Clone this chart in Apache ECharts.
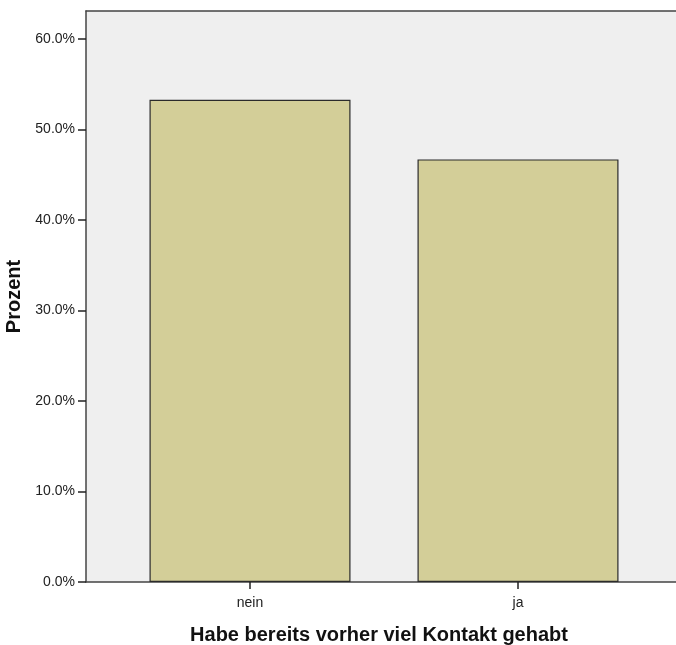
<!DOCTYPE html>
<html>
<head>
<meta charset="utf-8">
<script src="https://cdn.jsdelivr.net/npm/echarts@6/dist/echarts.min.js"></script>
<style>html,body{margin:0;padding:0;background:#fff;}#c{width:676px;height:645px;}</style>
</head>
<body>
<div id="c"></div>
<script>
var categories = ['nein', 'ja'];
var values = [53.3, 46.7];
var yTicks = [0, 10, 20, 30, 40, 50, 60];
var yMax = 63.1;
var xTitle = 'Habe bereits vorher viel Kontakt gehabt';
var yTitle = 'Prozent';

var chart = echarts.init(document.getElementById('c'), null, {renderer: 'canvas'});
var font = 'Liberation Sans, Arial, sans-serif';
chart.setOption({
  animation: false,
  grid: [
    {left: 86, right: 0, top: 11, bottom: 63, show: true, backgroundColor: '#efefef', borderWidth: 0, containLabel: false, outerBoundsMode: 'none'},
    {left: 116, width: 536, top: 11, bottom: 63, show: false, containLabel: false, outerBoundsMode: 'none'}
  ],
  xAxis: [
    {gridIndex: 0, type: 'value', min: 0, max: 1, position: 'top',
     axisLine: {show: true, onZero: false, lineStyle: {color: '#444', width: 1.5}},
     axisTick: {show: false}, axisLabel: {show: false}, splitLine: {show: false}},
    {gridIndex: 0, type: 'value', min: 0, max: 1, position: 'bottom',
     axisLine: {show: true, onZero: false, lineStyle: {color: '#444', width: 1.5}},
     axisTick: {show: false}, axisLabel: {show: false}, splitLine: {show: false}},
    {gridIndex: 1, type: 'category', data: categories, position: 'bottom',
     axisLine: {show: false, onZero: false},
     axisTick: {show: true, alignWithLabel: true, length: 7, lineStyle: {color: '#222', width: 1.5}},
     axisLabel: {color: '#222', fontSize: 14, fontFamily: font, margin: 14},
     name: xTitle, nameLocation: 'middle', nameGap: 43,
     nameTextStyle: {color: '#111', fontSize: 20, fontWeight: 'bold', fontFamily: font, padding: [0, 10, 0, 0]}},
  ],
  yAxis: [
    {gridIndex: 0, type: 'value', min: 0, max: yMax,
     axisLine: {show: true, onZero: false, lineStyle: {color: '#444', width: 1.5}},
     axisTick: {show: true, length: 8, customValues: yTicks, lineStyle: {color: '#222', width: 1.5}},
     axisLabel: {customValues: yTicks, color: '#222', fontSize: 14, fontFamily: font, margin: 11,
       formatter: function (v) { return v.toFixed(1) + '%'; }},
     splitLine: {show: false},
     name: yTitle, nameLocation: 'middle', nameGap: 58, nameRotate: 90,
     nameTextStyle: {color: '#111', fontSize: 20, fontWeight: 'bold', fontFamily: font}},
    {gridIndex: 1, type: 'value', min: 0, max: yMax, show: false}
  ],
  series: [{
    type: 'bar', xAxisIndex: 2, yAxisIndex: 1, data: values, barWidth: '75%',
    itemStyle: {color: '#d3ce98', borderColor: '#2b2b2b', borderWidth: 1.2}
  }]
});
</script>
</body>
</html>
